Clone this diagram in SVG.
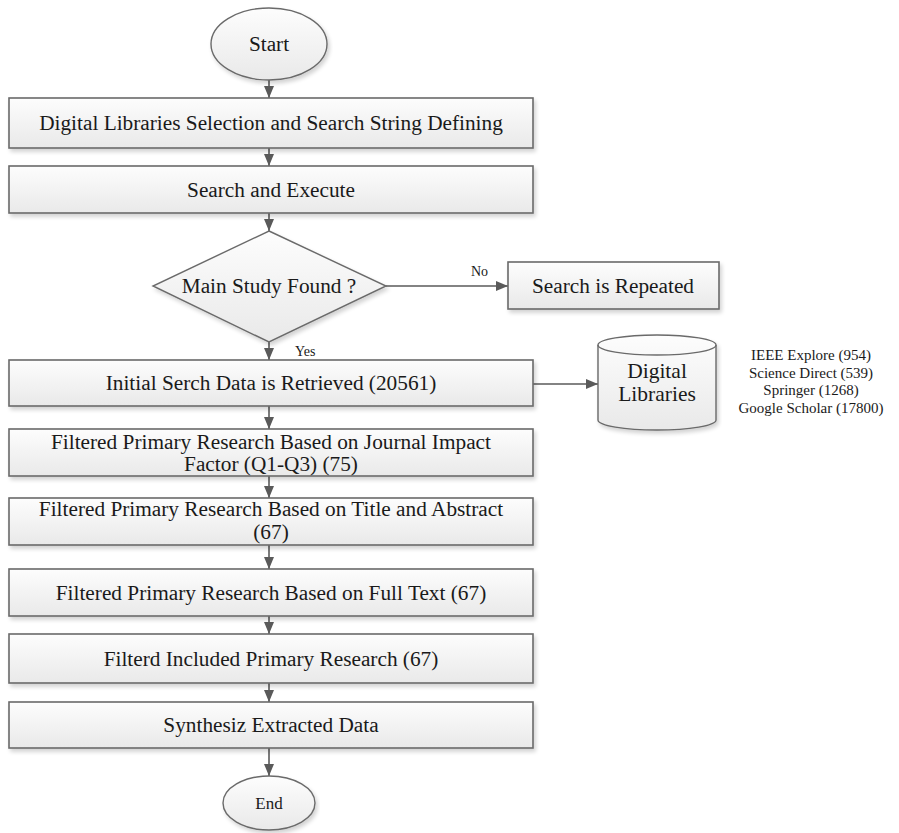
<svg xmlns="http://www.w3.org/2000/svg" width="899" height="833" viewBox="0 0 899 833">
  <defs>
    <linearGradient id="boxFill" x1="0" y1="0" x2="0" y2="1">
      <stop offset="0" stop-color="#fdfdfd"/>
      <stop offset="1" stop-color="#e9e9e9"/>
    </linearGradient>
    <filter id="shadow" x="-5%" y="-20%" width="110%" height="150%">
      <feGaussianBlur in="SourceAlpha" stdDeviation="2"/>
      <feOffset dx="2" dy="3"/>
      <feComponentTransfer><feFuncA type="linear" slope="0.18"/></feComponentTransfer>
      <feMerge><feMergeNode/><feMergeNode in="SourceGraphic"/></feMerge>
    </filter>
    <marker id="arrow" viewBox="0 0 12 10" refX="12" refY="5" markerWidth="12" markerHeight="10" markerUnits="userSpaceOnUse" orient="auto">
      <path d="M0,0 L12,5 L0,10 Z" fill="#5a5a5a"/>
    </marker>
  </defs>
  <style>
    .box { fill: url(#boxFill); stroke: #6a6a6a; stroke-width: 1.6; filter: url(#shadow); }
    .shape { fill: url(#boxFill); stroke: #6a6a6a; stroke-width: 1.4; filter: url(#shadow); }
    .lbl { font-family: "Liberation Serif", "Times New Roman", serif; font-size: 21.3px; fill: #1a1a1a; text-anchor: middle; }
    .small { font-family: "Liberation Serif", "Times New Roman", serif; font-size: 14px; fill: #1a1a1a; }
    .side { font-family: "Liberation Serif", "Times New Roman", serif; font-size: 15px; fill: #1a1a1a; text-anchor: middle; }
    .conn { stroke: #5a5a5a; stroke-width: 1.6; fill: none; marker-end: url(#arrow); }
  </style>

  <rect width="899" height="833" fill="#ffffff"/>

  <!-- connectors -->
  <g id="connectors">
    <line class="conn" x1="269" y1="80" x2="269" y2="98"/>
    <line class="conn" x1="269" y1="148" x2="269" y2="166"/>
    <line class="conn" x1="269" y1="213" x2="269" y2="231"/>
    <line class="conn" x1="386" y1="286" x2="508" y2="286"/>
    <line class="conn" x1="269" y1="342" x2="269" y2="360"/>
    <line class="conn" x1="533" y1="384" x2="598" y2="384"/>
    <line class="conn" x1="269" y1="406" x2="269" y2="429"/>
    <line class="conn" x1="269" y1="476" x2="269" y2="498"/>
    <line class="conn" x1="269" y1="545" x2="269" y2="569"/>
    <line class="conn" x1="269" y1="616" x2="269" y2="634"/>
    <line class="conn" x1="269" y1="683" x2="269" y2="702"/>
    <line class="conn" x1="269" y1="748" x2="269" y2="776"/>
    <text class="small" x="471" y="276">No</text>
    <text class="small" x="295" y="356">Yes</text>
  </g>

  <g id="start">
    <ellipse class="shape" cx="269" cy="44" rx="58" ry="36"/>
    <text class="lbl" x="269" y="51">Start</text>
  </g>

  <g id="select-libraries">
    <rect class="box" x="9" y="98" width="524" height="50"/>
    <text class="lbl" x="271" y="130">Digital Libraries Selection and Search String Defining</text>
  </g>

  <g id="search-execute">
    <rect class="box" x="9" y="166" width="524" height="47"/>
    <text class="lbl" x="271" y="197">Search and Execute</text>
  </g>

  <g id="study-found">
    <polygon class="shape" points="269,231 386,286 269,342 153,286"/>
    <text class="lbl" x="269" y="293">Main Study Found ?</text>
  </g>

  <g id="search-repeated">
    <rect class="box" x="508" y="262" width="211" height="47"/>
    <text class="lbl" x="613" y="293">Search is Repeated</text>
  </g>

  <g id="initial-data">
    <rect class="box" x="9" y="360" width="524" height="46"/>
    <text class="lbl" x="271" y="390">Initial Serch Data is Retrieved (20561)</text>
  </g>

  <g id="digital-libraries">
    <path class="shape" d="M598,345 A59,10 0 0 1 716,345 L716,420 A59,10 0 0 1 598,420 Z"/>
    <path d="M598,345 A59,10 0 0 0 716,345" fill="none" stroke="#6a6a6a" stroke-width="1.4"/>
    <text class="lbl" x="657" y="378" style="font-size:21.5px">Digital</text>
    <text class="lbl" x="657" y="401" style="font-size:21.5px">Libraries</text>
  </g>

  <g id="library-counts">
    <text class="side" x="811" y="360">IEEE Explore (954)</text>
    <text class="side" x="811" y="377.5">Science Direct (539)</text>
    <text class="side" x="811" y="395">Springer (1268)</text>
    <text class="side" x="811" y="412.5">Google Scholar (17800)</text>
  </g>

  <g id="filter-impact">
    <rect class="box" x="9" y="429" width="524" height="47"/>
    <text class="lbl" x="271" y="449">Filtered Primary Research Based on Journal Impact</text>
    <text class="lbl" x="271" y="471">Factor (Q1-Q3) (75)</text>
  </g>

  <g id="filter-title">
    <rect class="box" x="9" y="498" width="524" height="47"/>
    <text class="lbl" x="271" y="516">Filtered Primary Research Based on Title and Abstract</text>
    <text class="lbl" x="271" y="539">(67)</text>
  </g>

  <g id="filter-fulltext">
    <rect class="box" x="9" y="569" width="524" height="47"/>
    <text class="lbl" x="271" y="600">Filtered Primary Research Based on Full Text (67)</text>
  </g>

  <g id="filter-included">
    <rect class="box" x="9" y="634" width="524" height="49"/>
    <text class="lbl" x="271" y="666">Filterd Included Primary Research (67)</text>
  </g>

  <g id="synthesize">
    <rect class="box" x="9" y="702" width="524" height="46"/>
    <text class="lbl" x="271" y="732">Synthesiz Extracted Data</text>
  </g>

  <g id="end">
    <ellipse class="shape" cx="269" cy="803" rx="46" ry="27"/>
    <text class="lbl" x="269" y="809" style="font-size:17px">End</text>
  </g>
</svg>
